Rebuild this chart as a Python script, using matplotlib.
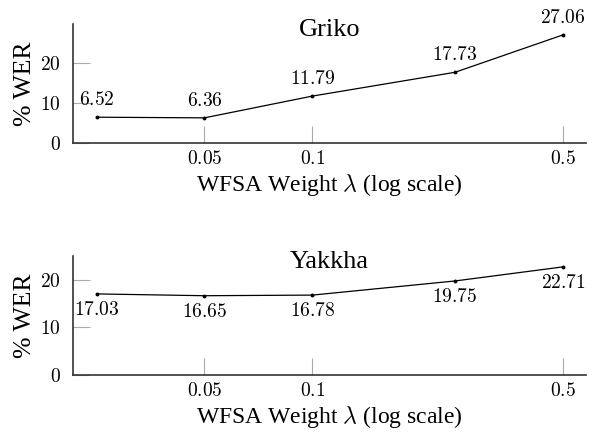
import matplotlib
matplotlib.use("Agg")
import matplotlib.pyplot as plt

plt.rcParams['font.family'] = ['Liberation Serif', 'DejaVu Serif']
plt.rcParams['mathtext.fontset'] = 'cm'

weights = [0.025, 0.05, 0.1, 0.25, 0.5]
griko_wer = [6.52, 6.36, 11.79, 17.73, 27.06]
yakkha_wer = [17.03, 16.65, 16.78, 19.75, 22.71]
tick_vals = [0.05, 0.1, 0.5]
tick_labels = ["0.05", "0.1", "0.5"]
y_ticks = [0, 10, 20]

fig = plt.figure(figsize=(5.89, 4.37), dpi=100)
ax1 = fig.add_axes([0.124, 0.672, 0.871, 0.273])
ax2 = fig.add_axes([0.124, 0.142, 0.871, 0.272])


def style_axis(ax, title, vals, ymax, above):
    ax.plot(weights, vals, color='black', lw=0.9, marker='o', ms=1.8)
    ax.set_xscale('log')
    ax.set_xlim(0.0215, 0.58)
    ax.set_ylim(0, ymax)
    ax.set_xticks(tick_vals)
    ax.set_xticklabels(["$" + t + "$" for t in tick_labels], fontsize=14)
    ax.minorticks_off()
    ax.set_yticks(y_ticks)
    ax.set_yticklabels(["$%d$" % v for v in y_ticks], fontsize=14)
    ax.tick_params(direction='in', length=12, width=0.8, color='#aaaaaa')
    ax.tick_params(axis='x', pad=5)
    ax.tick_params(axis='y', pad=9)
    for s in ['top', 'right']:
        ax.spines[s].set_visible(False)
    for s in ['left', 'bottom']:
        ax.spines[s].set_color('#333333')
        ax.spines[s].set_linewidth(1.2)
    ax.set_xlabel(r"WFSA Weight $\lambda$ (log scale)", fontsize=17, labelpad=3)
    ax.set_ylabel("% WER", fontsize=18.5, labelpad=3)
    ax.text(0.5, 0.9, title, transform=ax.transAxes, ha='center', va='baseline', fontsize=19)
    for x, y in zip(weights, vals):
        if above:
            ax.annotate("$%.2f$" % y, (x, y), xytext=(0, 6), textcoords='offset points',
                        ha='center', va='bottom', fontsize=14)
        else:
            ax.annotate("$%.2f$" % y, (x, y), xytext=(0, -5), textcoords='offset points',
                        ha='center', va='top', fontsize=14)


style_axis(ax1, "Griko", griko_wer, 29.77, True)
style_axis(ax2, "Yakkha", yakkha_wer, 24.98, False)

fig.savefig("out.png", dpi=100)
